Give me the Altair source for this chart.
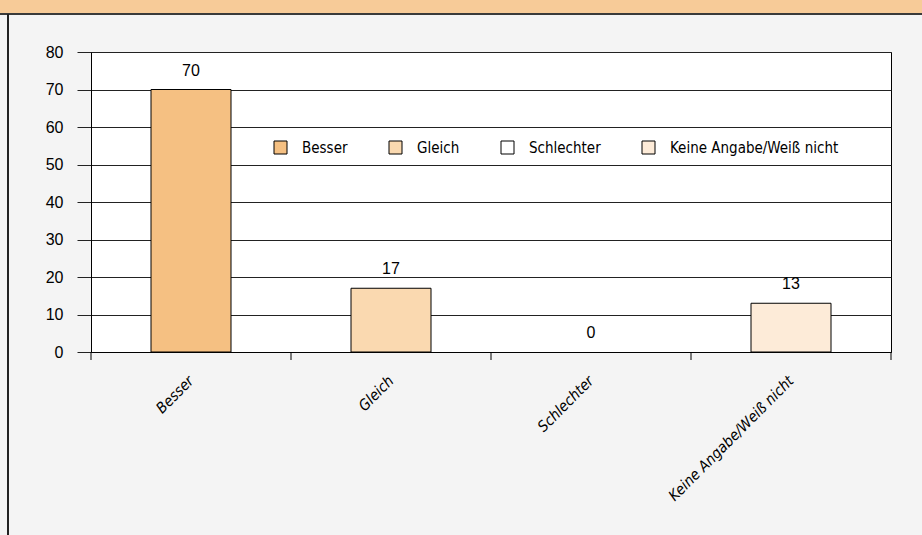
import altair as alt
import pandas as pd

categories = ["Besser", "Gleich", "Schlechter", "Keine Angabe/Weiß nicht"]
values = [70, 17, 0, 13]
colors = ["#F5C082", "#FAD9B0", "#FFFFFF", "#FDEBD8"]
y_ticks = [0, 10, 20, 30, 40, 50, 60, 70, 80]

df = pd.DataFrame({"Kategorie": categories, "Wert": values})

COND = "DejaVu Sans Condensed, Liberation Sans Narrow, Liberation Sans"
NUM = "Liberation Sans, Arial, sans-serif"

x_axis = alt.Axis(
    title=None, labelAngle=-45, labelAlign="right", labelBaseline="middle",
    labelPadding=26, ticks=False, domainColor="black", labelColor="black",
    labelFont=COND, labelFontStyle="italic", labelFontSize=15, grid=False,
)
y_axis = alt.Axis(
    title=None, values=y_ticks, tickCount=20, tickSize=14, labelPadding=14, grid=True,
    gridColor="#222222", tickColor="#222222", domainColor="black",
    labelColor="black", labelFont=NUM, labelFontSize=16, labelOverlap=False,
)
x_scale = alt.Scale(paddingInner=0, paddingOuter=0)
y_scale = alt.Scale(domain=[0, 80], nice=False)

x_enc = alt.X("Kategorie:N", sort=categories, scale=x_scale, axis=x_axis)
y_enc = alt.Y("Wert:Q", scale=y_scale, axis=y_axis)

bars = alt.Chart(df).mark_bar(size=80, stroke="black").encode(
    x=x_enc,
    y=y_enc,
    strokeWidth=alt.condition("datum.Wert > 0", alt.value(1), alt.value(0)),
    color=alt.Color(
        "Kategorie:N",
        sort=categories,
        scale=alt.Scale(domain=categories, range=colors),
        legend=alt.Legend(
            title=None, orient="none", legendX=182, legendY=88, direction="horizontal",
            columns=4, padding=0, symbolType="square", symbolSize=169,
            symbolStrokeColor="black", symbolStrokeWidth=1, symbolOpacity=1,
            labelFont=COND, labelFontSize=15, labelColor="black",
            labelOffset=14, columnPadding=39, labelLimit=400,
        ),
    ),
)

labels = alt.Chart(df).mark_text(dy=-14, baseline="alphabetic", font=NUM, fontSize=16, color="black").encode(
    x=x_enc,
    y=y_enc,
    text="Wert:Q",
)

ticks = alt.Chart(df).mark_rule(xOffset=-100, color="black").encode(
    x=x_enc,
    y=alt.value(300),
    y2=alt.value(308),
)

one = pd.DataFrame({"a": [0]})
right_tick = alt.Chart(one).mark_rule(color="black").encode(
    x=alt.value(800), y=alt.value(300), y2=alt.value(308)
)
header = alt.Chart(one).mark_rect(color="#F7CB98").encode(
    x=alt.value(-91), x2=alt.value(840), y=alt.value(-52), y2=alt.value(-39)
)
header_line = alt.Chart(one).mark_rule(color="#3a3a3a", strokeWidth=2).encode(
    x=alt.value(-91), x2=alt.value(840), y=alt.value(-38)
)
left_border = alt.Chart(one).mark_rule(color="#222222", strokeWidth=2).encode(
    x=alt.value(-83), y=alt.value(-38), y2=alt.value(483)
)

chart = alt.layer(header, header_line, left_border, bars, labels, ticks, right_tick).properties(
    width=800, height=300,
    padding={"left": 91, "top": 52, "right": 31, "bottom": 183},
    autosize=alt.AutoSizeParams(type="none"),
    background="#F4F4F4",
).configure_view(fill="white", stroke="black", strokeWidth=1)

chart.save("out.html", embed_options={"renderer": "svg", "actions": False})
